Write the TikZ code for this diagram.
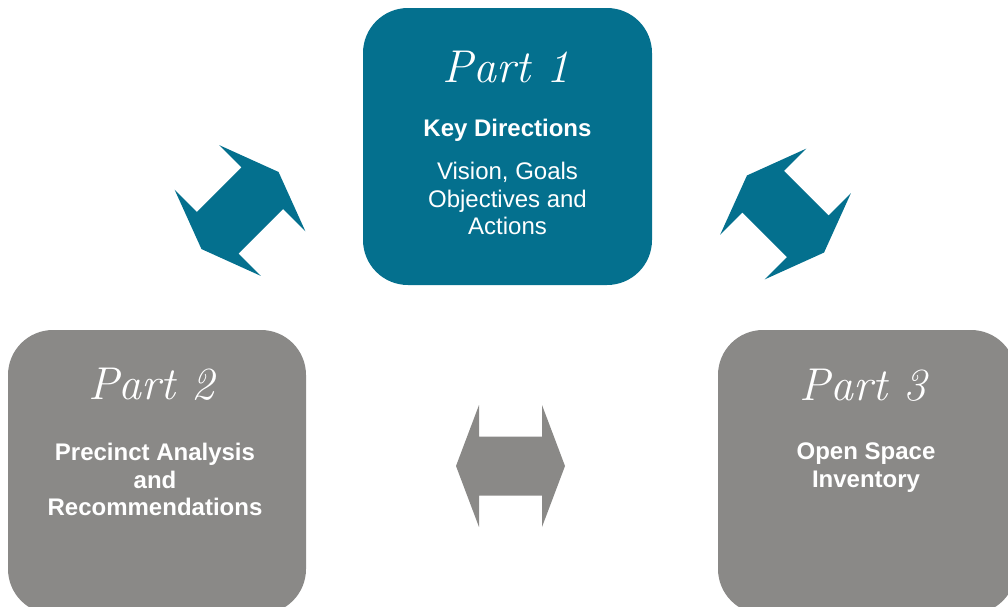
\documentclass[tikz,border=0pt]{standalone}
\usepackage{fontspec}
\newfontfamily\arialfont{Liberation Sans}
\usetikzlibrary{positioning}

\definecolor{partteal}{RGB}{4,112,142}
\definecolor{partgrey}{RGB}{138,137,135}

% block double arrow, drawn along the x axis
\tikzset{dblarrow/.pic={
    \fill[#1] (-54.5,0) -- (-31.5,61) -- (-31.5,29.5) -- (31.5,29.5) -- (31.5,61)
      -- (54.5,0) -- (31.5,-61) -- (31.5,-29.5) -- (-31.5,-29.5) -- (-31.5,-61) -- cycle;
}}

\begin{document}
\begin{tikzpicture}[x=1pt,y=-1pt,node distance=21pt,every node/.append style={align=center,text=white,inner sep=0pt},
    partbox/.style={rectangle,rounded corners=45pt,minimum width=298pt,minimum height=284pt},
    parttitle/.style={anchor=base,font=\fontsize{46}{48}\selectfont\itshape\addfontfeatures{LetterSpace=6}},
    partbody/.style={anchor=north,font=\arialfont\fontsize{24}{27.5}\selectfont},
    partkey/.style={anchor=north,font=\arialfont\bfseries\fontsize{24}{27.5}\selectfont}]
        \useasboundingbox (0,0) rectangle (1008,606);
        \node [partbox, fill=partteal, minimum width=289pt, minimum height=277pt] (P1) at (507.5,146.5) {};
        \node [partbox, fill=partgrey] (P2) at (157,472) {};
        \node [partbox, fill=partgrey] (P3) at (867,472) {};
        \node [parttitle] (T1) at (506,82) {Part 1};
        \node [parttitle] (T2) at (151.5,399) {Part 2};
        \node [parttitle] (T3) at (863,400) {Part 3};
        \node [partkey] (K1) at (507.5,118.5) {Key Directions};
        \node [partbody, below=of K1] (D1) {Vision, Goals\\Objectives and\\Actions};
        \node [partkey] (K2) at (155,443) {Precinct Analysis\\and\\Recommendations};
        \node [partkey] (K3) at (866,443) {Open Space\\Inventory};
        \path (240,210.5) pic[rotate=45] {dblarrow=partteal}
        (785.5,214) pic[rotate=-45] {dblarrow=partteal}
        (510.5,466) pic {dblarrow=partgrey};
    \end{tikzpicture}
\end{document}
